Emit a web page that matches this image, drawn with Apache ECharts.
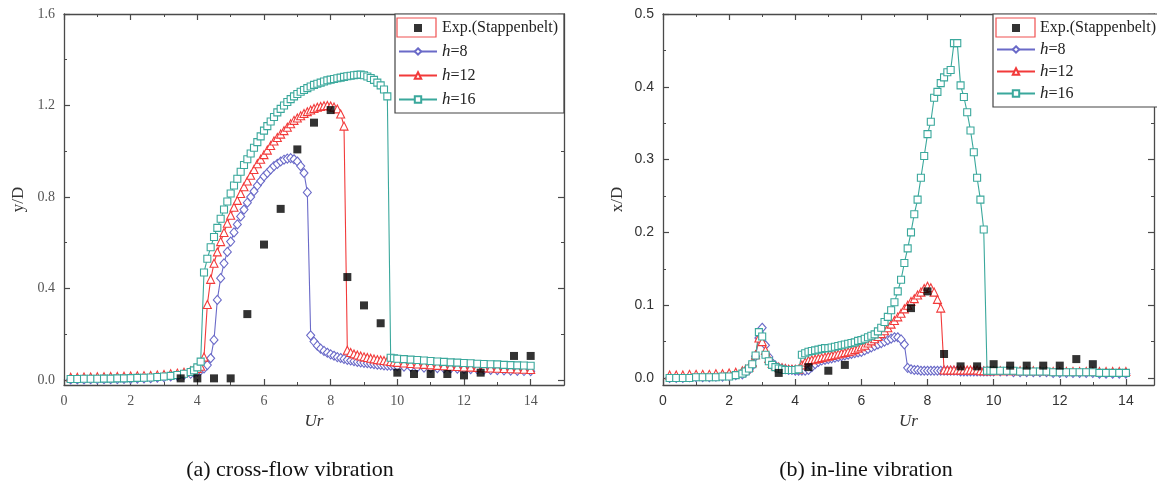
<!DOCTYPE html>
<html><head><meta charset="utf-8">
<script src="https://cdn.jsdelivr.net/npm/echarts@6/dist/echarts.min.js"></script>
<style>html,body{margin:0;padding:0;background:#fff}#c{width:1157px;height:491px}</style>
</head><body><div id="c"></div>
<script>
// ---------- (a) cross-flow vibration ----------
const xL = [0.2,0.4,0.6,0.8,1.0,1.2,1.4,1.6,1.8,2.0,2.2,2.4,2.6,2.8,3.0,3.2,3.4,3.6,3.8,
  3.9,4.0,4.1,4.2,4.3,4.4,4.5,4.6,4.7,4.8,4.9,
  5.0,5.1,5.2,5.3,5.4,5.5,5.6,5.7,5.8,5.9,
  6.0,6.1,6.2,6.3,6.4,6.5,6.6,6.7,6.8,6.9,
  7.0,7.1,7.2,7.3,7.4,7.5,7.6,7.7,7.8,7.9,
  8.0,8.1,8.2,8.3,8.4,8.5,8.6,8.7,8.8,8.9,
  9.0,9.1,9.2,9.3,9.4,9.5,9.6,9.7,9.8,9.9,
  10.0,
  10.2,10.4,10.6,10.8,11.0,11.2,11.4,11.6,11.8,12.0,12.2,12.4,12.6,12.8,13.0,13.2,13.4,13.6,13.8,14.0];
const yL_h8 = [0.002,0.002,0.002,0.003,0.003,0.003,0.004,0.004,0.005,0.005,0.006,0.007,0.008,0.010,0.012,0.015,0.018,0.022,0.027,
  0.032,0.036,0.042,0.050,0.065,0.095,0.175,0.350,0.445,0.510,0.560,
  0.605,0.645,0.680,0.715,0.745,0.775,0.800,0.825,0.850,0.870,
  0.890,0.905,0.920,0.935,0.945,0.955,0.963,0.968,0.970,0.965,
  0.955,0.935,0.905,0.820,0.195,0.168,0.150,0.137,0.127,0.119,
  0.112,0.106,0.100,0.096,0.092,0.088,0.085,0.082,0.079,0.077,
  0.075,0.073,0.071,0.069,0.067,0.066,0.064,0.063,0.062,0.061,
  0.060,
  0.058,0.057,0.055,0.054,0.053,0.052,0.051,0.050,0.049,0.048,0.047,0.046,0.045,0.044,0.043,0.042,0.041,0.040,0.039,0.038];
const yL_h12 = [0.012,0.012,0.013,0.013,0.014,0.014,0.015,0.015,0.016,0.017,0.018,0.019,0.020,0.022,0.024,0.027,0.030,0.034,0.040,
  0.044,0.050,0.060,0.100,0.330,0.440,0.510,0.560,0.605,0.645,0.685,
  0.720,0.755,0.785,0.815,0.845,0.870,0.895,0.920,0.945,0.965,
  0.985,1.005,1.025,1.045,1.060,1.075,1.090,1.105,1.120,1.135,
  1.145,1.155,1.165,1.173,1.180,1.187,1.192,1.196,1.199,1.200,
  1.198,1.193,1.185,1.163,1.110,0.130,0.120,0.114,0.109,0.105,
  0.101,0.098,0.095,0.092,0.089,0.087,0.085,0.083,0.081,0.079,
  0.077,
  0.074,0.072,0.070,0.068,0.066,0.064,0.062,0.060,0.059,0.057,0.056,0.055,0.053,0.052,0.051,0.050,0.049,0.048,0.047,0.046];
const yL_h16 = [0.004,0.004,0.005,0.005,0.005,0.006,0.006,0.007,0.007,0.008,0.009,0.010,0.011,0.013,0.015,0.018,0.022,0.027,0.035,
  0.042,0.055,0.080,0.470,0.530,0.580,0.625,0.665,0.705,0.745,0.780,
  0.815,0.850,0.880,0.910,0.940,0.965,0.990,1.015,1.040,1.065,
  1.090,1.110,1.130,1.150,1.170,1.185,1.200,1.215,1.228,1.240,
  1.250,1.260,1.268,1.276,1.283,1.290,1.295,1.300,1.305,1.310,
  1.313,1.316,1.319,1.322,1.325,1.328,1.330,1.332,1.334,1.335,
  1.332,1.327,1.320,1.312,1.300,1.288,1.270,1.240,0.097,0.095,
  0.093,
  0.091,0.089,0.087,0.085,0.083,0.081,0.079,0.077,0.076,0.074,0.073,0.071,0.070,0.069,0.068,0.066,0.065,0.064,0.063,0.062];
const expLX = [3.5,4.0,4.5,5.0,5.5,6.0,6.5,7.0,7.5,8.0,8.5,9.0,9.5,10.0,10.5,11.0,11.5,12.0,12.5,13.5,14.0];
const expLY = [0.007,0.007,0.007,0.007,0.288,0.592,0.748,1.008,1.125,1.180,0.450,0.326,0.248,0.032,0.026,0.026,0.026,0.020,0.032,0.105,0.105];

// ---------- (b) in-line vibration ----------
const xR = [0.2,0.4,0.6,0.8,1.0,1.2,1.4,1.6,1.8,2.0,2.2,2.4,
  2.5,2.6,2.7,2.8,2.9,
  3.0,3.1,3.2,3.3,3.4,3.5,3.6,3.7,3.8,3.9,
  4.0,4.1,4.2,4.3,4.4,4.5,4.6,4.7,4.8,4.9,
  5.0,5.1,5.2,5.3,5.4,5.5,5.6,5.7,5.8,5.9,
  6.0,6.1,6.2,6.3,6.4,6.5,6.6,6.7,6.8,6.9,
  7.0,7.1,7.2,7.3,7.4,7.5,7.6,7.7,7.8,7.9,
  8.0,8.1,8.2,8.3,8.4,8.5,8.6,8.7,8.8,8.9,
  9.0,9.1,9.2,9.3,9.4,9.5,9.6,9.7,9.8,9.9,
  10.0,
  10.2,10.4,10.6,10.8,11.0,11.2,11.4,11.6,11.8,12.0,12.2,12.4,12.6,12.8,13.0,13.2,13.4,13.6,13.8,14.0];
const yR_h8 = [0.000,0.000,0.000,0.001,0.001,0.001,0.001,0.002,0.002,0.003,0.004,0.005,
  0.008,0.011,0.017,0.030,0.055,
  0.069,0.045,0.029,0.021,0.017,0.014,0.013,0.012,0.011,0.011,
  0.010,0.010,0.010,0.010,0.011,0.015,0.019,0.022,0.024,0.025,
  0.026,0.027,0.028,0.029,0.030,0.031,0.032,0.033,0.034,0.035,
  0.036,0.038,0.040,0.042,0.044,0.046,0.048,0.050,0.052,0.054,
  0.056,0.056,0.053,0.046,0.014,0.012,0.011,0.011,0.010,0.010,
  0.010,0.010,0.010,0.010,0.010,0.010,0.010,0.010,0.010,0.010,
  0.009,0.009,0.009,0.009,0.009,0.009,0.009,0.009,0.009,0.009,
  0.009,
  0.009,0.009,0.008,0.008,0.008,0.008,0.008,0.008,0.007,0.007,0.007,0.007,0.007,0.007,0.007,0.006,0.006,0.006,0.006,0.006];
const yR_h12 = [0.004,0.004,0.004,0.005,0.005,0.005,0.005,0.006,0.006,0.007,0.008,0.010,
  0.012,0.015,0.021,0.032,0.055,
  0.050,0.038,0.027,0.020,0.017,0.015,0.014,0.013,0.012,0.012,
  0.012,0.012,0.018,0.022,0.024,0.025,0.026,0.027,0.028,0.029,
  0.030,0.031,0.032,0.033,0.034,0.035,0.036,0.037,0.039,0.041,
  0.043,0.045,0.048,0.051,0.054,0.057,0.061,0.065,0.069,0.074,
  0.079,0.084,0.089,0.095,0.100,0.105,0.109,0.114,0.118,0.123,
  0.126,0.124,0.118,0.108,0.096,0.011,0.011,0.011,0.011,0.011,
  0.011,0.011,0.011,0.011,0.011,0.011,0.010,0.010,0.010,0.010,
  0.010,
  0.010,0.010,0.010,0.010,0.010,0.010,0.010,0.010,0.009,0.009,0.009,0.009,0.009,0.009,0.009,0.009,0.009,0.009,0.009,0.009];
const yR_h16 = [0.000,0.000,0.000,0.000,0.001,0.001,0.001,0.001,0.002,0.002,0.004,0.006,
  0.009,0.013,0.019,0.031,0.063,
  0.057,0.032,0.023,0.018,0.015,0.013,0.012,0.011,0.011,0.011,
  0.011,0.012,0.032,0.034,0.036,0.037,0.038,0.039,0.040,0.041,
  0.041,0.042,0.043,0.044,0.045,0.046,0.047,0.048,0.049,0.051,
  0.052,0.054,0.056,0.058,0.060,0.064,0.069,0.077,0.084,0.093,
  0.104,0.119,0.135,0.158,0.178,0.200,0.225,0.245,0.275,0.305,
  0.335,0.352,0.385,0.393,0.405,0.413,0.420,0.423,0.460,0.460,
  0.402,0.386,0.365,0.340,0.310,0.275,0.245,0.204,0.010,0.010,
  0.010,
  0.010,0.010,0.010,0.009,0.009,0.009,0.009,0.009,0.008,0.008,0.008,0.008,0.008,0.008,0.008,0.007,0.007,0.007,0.007,0.007];
const expRX = [3.5,4.4,5.0,5.5,7.5,8.0,8.5,9.0,9.5,10.0,10.5,11.0,11.5,12.0,12.5,13.0];
const expRY = [0.007,0.015,0.010,0.018,0.096,0.119,0.033,0.016,0.016,0.019,0.017,0.017,0.017,0.017,0.026,0.019];

// ticks / labels
const xMajor = [0,2,4,6,8,10,12,14];
const xMinorL = [1,3,5,7,9,11,13];
const yMajorL = [0,0.4,0.8,1.2,1.6];
const yMinorL = [0.2,0.6,1.0,1.4];
const yMajorR = [0,0.1,0.2,0.3,0.4,0.5];
const yMinorR = [0.05,0.15,0.25,0.35,0.45];
const seriesNames = ['Exp.(Stappenbelt)','h=8','h=12','h=16'];
const captions = ['(a) cross-flow vibration','(b) in-line vibration'];

function zip(xs, ys){ if (xs.length !== ys.length) throw new Error('length mismatch ' + xs.length + ' vs ' + ys.length); return xs.map((x,i)=>[x, ys[i]]); }

const SERIF = '"Liberation Serif","Times New Roman",serif';
const SANS = '"Liberation Sans",Arial,sans-serif';
const AX = '#4a4a4a';
const C8 = '#6a6ac8', C12 = '#f23a3a', C16 = '#3aa89c';

const panels = [
  {grid:{left:64, top:14, width:500, height:371}, xmax:15, ymin:-0.022, ymax:1.6, yMaj:yMajorL, yMin:yMinorL, yName:'y/D', labFont:SERIF, labColor:'#555', labSize:14},
  {grid:{left:663, top:14, width:491, height:371}, xmax:14.85, ymin:-0.0096, ymax:0.5, yMaj:yMajorR, yMin:yMinorR, yName:'x/D', labFont:SANS, labColor:'#333', labSize:14}
];

const xAxes = [], yAxes = [], grids = [], series = [];
panels.forEach((p, g) => {
  grids.push(Object.assign({containLabel:false}, p.grid));
  const xi = xAxes.length, yi = yAxes.length;
  ['bottom','top'].forEach(pos => {
    xAxes.push({type:'value', gridIndex:g, position:pos, min:0, max:p.xmax,
      axisLine:{show:true, onZero:false, lineStyle:{color:AX, width:1.3}},
      axisTick:{show:true, inside:true, length:6, customValues:xMajor, lineStyle:{color:AX, width:1.2}},
      axisLabel:{show:pos==='bottom', customValues:xMajor, margin:9, color:p.labColor, fontFamily:p.labFont, fontSize:p.labSize},
      splitLine:{show:false},
      name: pos==='bottom' ? 'Ur' : '', nameLocation:'middle', nameGap:24,
      nameTextStyle:{fontFamily:SERIF, fontStyle:'italic', fontSize:17, color:'#333'}});
    xAxes.push({type:'value', gridIndex:g, position:pos, min:0, max:p.xmax,
      axisLine:{show:false, onZero:false}, axisLabel:{show:false},
      axisTick:{show:true, inside:true, length:3, customValues:xMinorL, lineStyle:{color:AX, width:1}},
      splitLine:{show:false}});
  });
  ['left','right'].forEach(pos => {
    yAxes.push({type:'value', gridIndex:g, position:pos, min:p.ymin, max:p.ymax,
      axisLine:{show:true, onZero:false, lineStyle:{color:AX, width:1.3}},
      axisTick:{show:true, inside:true, length:6, customValues:p.yMaj, lineStyle:{color:AX, width:1.2}},
      axisLabel:{show:pos==='left', customValues:p.yMaj, margin:9, color:p.labColor, fontFamily:p.labFont, fontSize:p.labSize,
        formatter:v=>Number(v).toFixed(1)},
      splitLine:{show:false},
      name: pos==='left' ? p.yName : '', nameLocation:'middle', nameGap:37,
      nameTextStyle:{fontFamily:SERIF, fontSize:17, color:'#333'}});
    yAxes.push({type:'value', gridIndex:g, position:pos, min:p.ymin, max:p.ymax,
      axisLine:{show:false, onZero:false}, axisLabel:{show:false},
      axisTick:{show:true, inside:true, length:3, customValues:p.yMin, lineStyle:{color:AX, width:1}},
      splitLine:{show:false}});
  });
  const data = g === 0
    ? {x:xL, h8:yL_h8, h12:yL_h12, h16:yL_h16, ex:expLX, ey:expLY}
    : {x:xR, h8:yR_h8, h12:yR_h12, h16:yR_h16, ex:expRX, ey:expRY};
  const mk = (name, ys, color, symbol, size) => ({
    name, type:'line', xAxisIndex:xi, yAxisIndex:yi, data:zip(data.x, ys),
    symbol, symbolSize:size, showAllSymbol:true, color,
    lineStyle:{color, width:1.1}, itemStyle:{color:'#fff', borderColor:color, borderWidth:1.1},
    emphasis:{disabled:true}, z:2});
  series.push(mk(seriesNames[1], data.h8, C8, 'diamond', [8,9]));
  series.push(mk(seriesNames[2], data.h12, C12, 'triangle', 8));
  series.push(mk(seriesNames[3], data.h16, C16, 'rect', 7));
  series.push({name:seriesNames[0], type:'scatter', xAxisIndex:xi, yAxisIndex:yi, data:zip(data.ex, data.ey),
    symbol:'rect', symbolSize:8, color:'#000', itemStyle:{color:'#000'}, emphasis:{disabled:true}, z:3});
});

const legendFmt = name => name[0]==='h' ? '{i|h}{n|' + name.slice(1) + '}' : '{n|' + name + '}';
const legendRich = {i:{fontFamily:SERIF, fontStyle:'italic', fontSize:17, color:'#222'}, n:{fontFamily:SERIF, fontSize:16, color:'#222'}};
const legendData = [{name:seriesNames[0], icon:'path://M0,0H10V10H0Z', itemStyle:{color:'#000'}}, seriesNames[1], seriesNames[2], seriesNames[3]];
const mkLegend = (left, gap) => ({
  left, top:14, orient:'vertical', data:legendData, itemWidth:38, itemHeight:8, itemGap:gap,
  padding:[6,6,5,3], borderColor:'#444', borderWidth:1.2, backgroundColor:'#fff', symbolKeepAspect:true,
  formatter:legendFmt, textStyle:{rich:legendRich}, selectedMode:false});

const chart = echarts.init(document.getElementById('c'), null, {renderer:'canvas'});
chart.setOption({
  animation:false,
  grid:grids, xAxis:xAxes, yAxis:yAxes, series,
  legend:[mkLegend(395, 7), mkLegend(993, 5)],
  graphic:[
    {type:'rect', shape:{x:397, y:18, width:39, height:19}, style:{fill:'none', stroke:'#f05050', lineWidth:1.2}, z:100},
    {type:'rect', shape:{x:996, y:18, width:39, height:19}, style:{fill:'none', stroke:'#f05050', lineWidth:1.2}, z:100},
    {type:'text', x:290, y:470, style:{text:captions[0], font:'22px ' + SERIF, fill:'#111', textAlign:'center', textVerticalAlign:'middle'}},
    {type:'text', x:866, y:470, style:{text:captions[1], font:'22px ' + SERIF, fill:'#111', textAlign:'center', textVerticalAlign:'middle'}}
  ]
});
</script>
</body></html>
